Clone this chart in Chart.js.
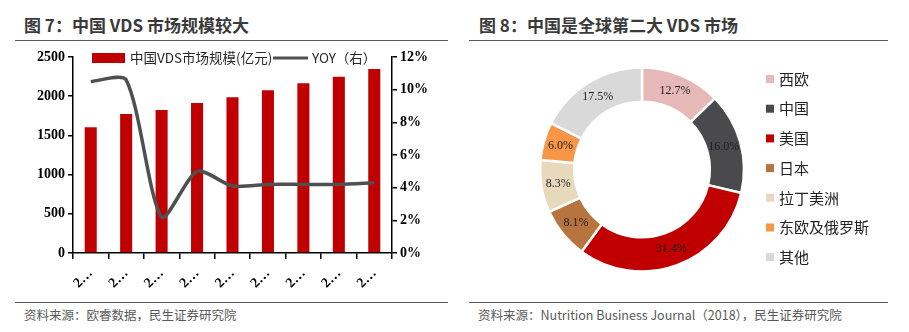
<!DOCTYPE html>
<html lang="zh-CN">
<head>
<meta charset="UTF-8" />
<title>中国 VDS 市场</title>
<script src="https://cdn.jsdelivr.net/npm/chart.js"></script>
<style>
  body {
    margin: 0;
    width: 909px;
    height: 332px;
    background: #fff;
    position: relative;
    overflow: hidden;
    font-family: "Noto Sans CJK SC", sans-serif;
  }
  .title {
    position: absolute;
    top: 14px;
    font-size: 17px;
    font-weight: 700;
    color: #3a3a3a;
    line-height: 22px;
    white-space: nowrap;
  }
  .rule {
    position: absolute;
    height: 0;
    border-top: 1.5px solid #5a5a5a;
  }
  .source {
    position: absolute;
    top: 306px;
    font-size: 12.5px;
    color: #595959;
    line-height: 18px;
    white-space: nowrap;
  }
  .box {
    position: absolute;
    top: 45px;
    height: 255px;
  }
</style>
</head>
<body>
  <!-- 图 7 -->
  <div class="title" style="left:24px">图 7：中国 VDS 市场规模较大</div>
  <div class="rule" style="left:15px; width:433px; top:40px"></div>
  <div class="box" style="left:0; width:460px"><canvas id="sizeChart"></canvas></div>
  <div class="rule" style="left:15px; width:433px; top:302px"></div>
  <div class="source" style="left:24px">资料来源：欧睿数据，民生证券研究院</div>

  <!-- 图 8 -->
  <div class="title" style="left:479px">图 8：中国是全球第二大 VDS 市场</div>
  <div class="rule" style="left:469px; width:419px; top:40px"></div>
  <div class="box" style="left:460px; width:449px"><canvas id="shareChart"></canvas></div>
  <div class="rule" style="left:469px; width:419px; top:302px"></div>
  <div class="source" style="left:478px">资料来源：Nutrition Business Journal（2018），民生证券研究院</div>

<script>
// market size (亿元) and growth (%) by year
const years = ['2015', '2016', '2017', '2018', '2019', '2020', '2021', '2022', '2023'];
const marketSize = [1603, 1773, 1824, 1913, 1986, 2075, 2164, 2249, 2347];
const yoyGrowth = [10.5, 10.6, 2.2, 5.0, 4.1, 4.2, 4.2, 4.2, 4.3];

// global share by region (%)
const regions = ['西欧', '中国', '美国', '日本', '拉丁美洲', '东欧及俄罗斯', '其他'];
const regionShare = [12.7, 16.0, 31.4, 8.1, 8.3, 6.0, 17.5];
const regionColors = ['#E6B9B8', '#4A4A4C', '#C00000', '#B8743F', '#E9D9BC', '#F79646', '#D9D9D9'];

const tickFont = { family: 'Liberation Serif', size: 14, weight: 'bold' };

// legend drawn inside the plot, above the bars
const comboLegend = {
  id: 'comboLegend',
  afterDraw(chart) {
    const ctx = chart.ctx;
    const sets = chart.data.datasets;
    const bars = sets.find(d => d.type !== 'line');
    const line = sets.find(d => d.type === 'line');
    ctx.save();
    ctx.font = '13.5px "Noto Sans CJK SC"';
    ctx.textBaseline = 'middle';
    ctx.fillStyle = bars.backgroundColor;
    ctx.fillRect(92, 8, 33, 10);
    ctx.fillStyle = '#262626';
    ctx.fillText(bars.label, 130, 13);
    ctx.strokeStyle = line.borderColor;
    ctx.lineWidth = 3;
    ctx.beginPath();
    ctx.moveTo(273, 13);
    ctx.lineTo(308, 13);
    ctx.stroke();
    ctx.fillText(line.label, 312, 13);
    ctx.restore();
  }
};

new Chart(document.getElementById('sizeChart'), {
  type: 'bar',
  data: {
    labels: years,
    datasets: [
      {
        type: 'line',
        label: 'YOY（右）',
        data: yoyGrowth,
        yAxisID: 'y1',
        borderColor: '#505050',
        borderWidth: 3.5,
        pointRadius: 0,
        tension: 0.25,
        order: 0
      },
      {
        label: '中国VDS市场规模(亿元)',
        data: marketSize,
        yAxisID: 'y',
        backgroundColor: '#C00000',
        categoryPercentage: 1,
        barPercentage: 0.34,
        order: 1
      }
    ]
  },
  options: {
    responsive: true,
    maintainAspectRatio: false,
    animation: false,
    layout: { padding: { top: 12, left: 0, right: 0, bottom: 0 } },
    plugins: { legend: { display: false }, tooltip: { enabled: false } },
    scales: {
      x: {
        afterFit: s => { s.height = 47; },
        border: { color: '#000', width: 1.5 },
        grid: { drawOnChartArea: false, tickLength: 6, color: '#000', lineWidth: 1.5 },
        ticks: {
          autoSkip: false,
          minRotation: 45,
          maxRotation: 45,
          padding: 6,
          color: '#000',
          font: tickFont,
          callback: (v) => years[v].slice(0, 1) + '…'
        }
      },
      y: {
        position: 'left',
        min: 0,
        max: 2500,
        afterFit: s => { s.width = 73; },
        border: { color: '#000', width: 1.5 },
        grid: { drawOnChartArea: false, tickLength: 5, color: '#000', lineWidth: 1.5 },
        ticks: { stepSize: 500, padding: 3, color: '#000', font: tickFont, callback: v => String(v) }
      },
      y1: {
        position: 'right',
        min: 0,
        max: 12,
        afterFit: s => { s.width = 68; },
        border: { color: '#000', width: 1.5 },
        grid: { drawOnChartArea: false, tickLength: 5, color: '#000', lineWidth: 1.5 },
        ticks: { stepSize: 2, padding: 3, color: '#000', font: tickFont, callback: v => v + '%' }
      }
    }
  },
  plugins: [comboLegend]
});

// value labels on each ring segment
const sliceLabels = {
  id: 'sliceLabels',
  afterDatasetsDraw(chart) {
    const ctx = chart.ctx;
    const meta = chart.getDatasetMeta(0);
    const values = chart.data.datasets[0].data;
    ctx.save();
    ctx.font = '12px "Liberation Serif"';
    ctx.fillStyle = '#1e1e1e';
    ctx.textAlign = 'center';
    ctx.textBaseline = 'middle';
    meta.data.forEach((arc, i) => {
      const p = arc.tooltipPosition();
      ctx.fillText(values[i].toFixed(1) + '%', p.x, p.y);
    });
    ctx.restore();
  }
};

// vertical legend to the right of the ring
const sideLegend = {
  id: 'sideLegend',
  afterDraw(chart) {
    const ctx = chart.ctx;
    const colors = chart.data.datasets[0].backgroundColor;
    ctx.save();
    ctx.font = '15px "Noto Sans CJK SC"';
    ctx.textBaseline = 'middle';
    chart.data.labels.forEach((name, i) => {
      const y = 34 + i * 29.7;
      ctx.fillStyle = colors[i];
      ctx.fillRect(306, y - 4, 8, 8);
      ctx.fillStyle = '#222';
      ctx.fillText(name, 319, y);
    });
    ctx.restore();
  }
};

new Chart(document.getElementById('shareChart'), {
  type: 'doughnut',
  data: {
    labels: regions,
    datasets: [{
      data: regionShare,
      backgroundColor: regionColors,
      borderColor: '#fff',
      borderWidth: 2.5
    }]
  },
  options: {
    responsive: true,
    maintainAspectRatio: false,
    animation: false,
    radius: 102,
    cutout: '66.5%',
    layout: { padding: { top: 22, bottom: 28, left: 80, right: 165 } },
    plugins: { legend: { display: false }, tooltip: { enabled: false } }
  },
  plugins: [sliceLabels, sideLegend]
});
</script>
</body>
</html>
